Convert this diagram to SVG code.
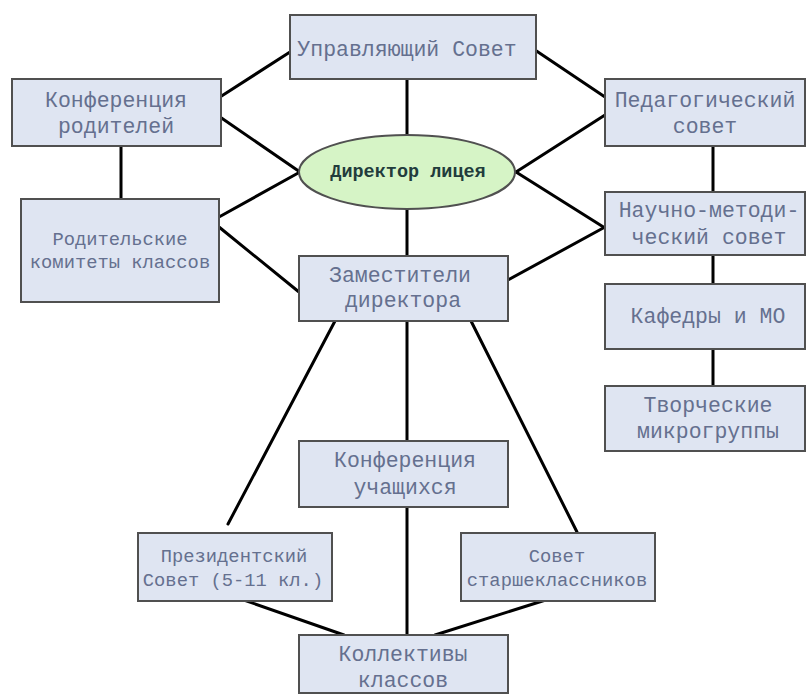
<svg xmlns="http://www.w3.org/2000/svg" width="807" height="695" viewBox="0 0 807 695">
<style>
.box{fill:#dfe5f2;stroke:#505050;stroke-width:2}
.ell{fill:#d6f4c6;stroke:#505050;stroke-width:2}
.t{font-family:"Liberation Mono","Courier New",monospace;font-size:21.5px;fill:#65708f;text-anchor:middle}
.s{font-size:18.8px}
.b{font-family:"Liberation Mono","Courier New",monospace;font-size:18.5px;font-weight:bold;fill:#223c3c;text-anchor:middle}
.c line{stroke:#000;stroke-width:3;stroke-linecap:round}
</style>
<rect width="807" height="695" fill="#fff"/>
<g class="c" id="connectors">
<line x1="290" y1="52" x2="220" y2="97"/>
<line x1="220" y1="117" x2="300" y2="172"/>
<line x1="535" y1="50" x2="605" y2="97"/>
<line x1="516" y1="172" x2="605" y2="115"/>
<line x1="516" y1="172" x2="605" y2="228"/>
<line x1="407" y1="79" x2="407" y2="135"/>
<line x1="407" y1="209" x2="407" y2="256"/>
<line x1="121" y1="146" x2="121" y2="199"/>
<line x1="300" y1="172" x2="219" y2="217"/>
<line x1="219" y1="227" x2="299" y2="292"/>
<line x1="508" y1="280" x2="605" y2="227"/>
<line x1="713" y1="146" x2="713" y2="192"/>
<line x1="713" y1="255" x2="713" y2="284"/>
<line x1="713" y1="349" x2="713" y2="386"/>
<line x1="335" y1="321" x2="228" y2="524"/>
<line x1="471" y1="321" x2="577" y2="532"/>
<line x1="407" y1="321" x2="407" y2="441"/>
<line x1="407" y1="507" x2="407" y2="635"/>
<line x1="238" y1="598" x2="344" y2="635"/>
<line x1="552" y1="598" x2="435" y2="635"/>
</g>
<g id="upr"><rect class="box" x="290" y="15" width="246" height="64"/><text class="t" x="407" y="56">Управляющий Совет</text></g>
<g id="konfrod"><rect class="box" x="12" y="79" width="209" height="67"/><text class="t" x="116" y="107">Конференция</text><text class="t" x="116" y="133">родителей</text></g>
<g id="rodkom"><rect class="box" x="21" y="199" width="198" height="103"/><text class="t s" x="120" y="245">Родительские</text><text class="t s" x="120" y="268">комитеты классов</text></g>
<g id="director"><ellipse class="ell" cx="407" cy="172" rx="108" ry="37"/><text class="b" x="408" y="177">Директор лицея</text></g>
<g id="zam"><rect class="box" x="299" y="256" width="209" height="65"/><text class="t" x="400" y="282">Заместители</text><text class="t" x="403" y="307">директора</text></g>
<g id="ped"><rect class="box" x="605" y="79" width="200" height="67"/><text class="t" x="705" y="107">Педагогический</text><text class="t" x="705" y="133">совет</text></g>
<g id="nauch"><rect class="box" x="605" y="192" width="200" height="63"/><text class="t" x="709" y="217">Научно-методи-</text><text class="t" x="709" y="244">ческий совет</text></g>
<g id="kaf"><rect class="box" x="605" y="284" width="200" height="65"/><text class="t" x="708" y="323">Кафедры и МО</text></g>
<g id="tvor"><rect class="box" x="605" y="386" width="200" height="65"/><text class="t" x="708" y="412">Творческие</text><text class="t" x="708" y="438">микрогруппы</text></g>
<g id="konfuch"><rect class="box" x="299" y="441" width="209" height="66"/><text class="t" x="405" y="467">Конференция</text><text class="t" x="405" y="494">учащихся</text></g>
<g id="prez"><rect class="box" x="138" y="533" width="194" height="68"/><text class="t s" x="234" y="562">Президентский</text><text class="t s" x="233" y="586">Совет (5-11 кл.)</text></g>
<g id="sovst"><rect class="box" x="461" y="533" width="194" height="68"/><text class="t s" x="557" y="562">Совет</text><text class="t s" x="557" y="586">старшеклассников</text></g>
<g id="koll"><rect class="box" x="299" y="635" width="209" height="58"/><text class="t" x="403" y="661">Коллективы</text><text class="t" x="403" y="687">классов</text></g>
</svg>
